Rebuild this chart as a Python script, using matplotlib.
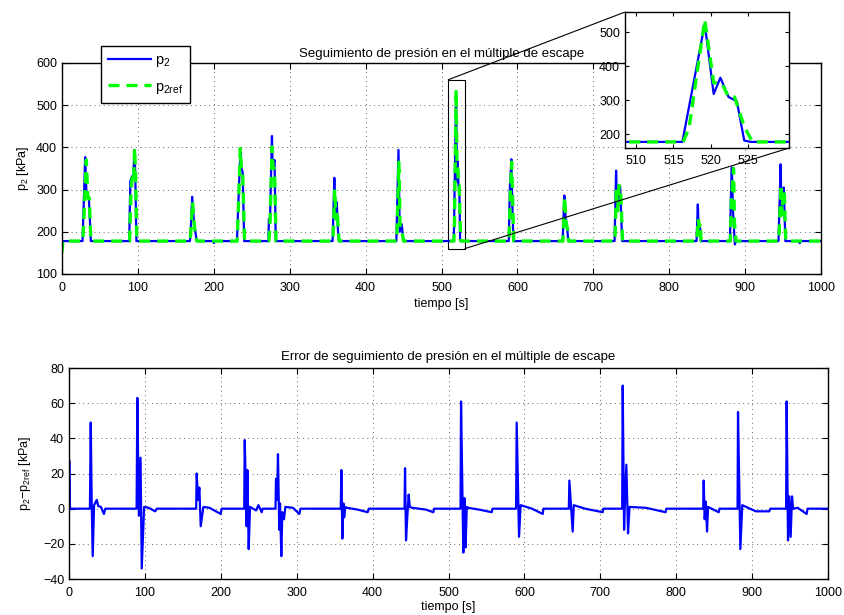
import numpy as np
import matplotlib
matplotlib.use('Agg')
import matplotlib.pyplot as plt
from mpl_toolkits.axes_grid1.inset_locator import mark_inset

plt.rcParams.update({
    'font.family': ['Liberation Sans', 'DejaVu Sans'],
    'font.size': 9,
    'axes.linewidth': 1.0,
    'xtick.direction': 'in',
    'ytick.direction': 'in',
    'xtick.top': True,
    'ytick.right': True,
    'mathtext.default': 'regular',
})

# ── datos (puntos de quiebre) ────────────────────────────────────
t_p2 = [0, 27, 28.5, 30.5, 32, 33, 35.5, 38, 88.5, 90, 92, 94, 95.4, 96.5, 98, 168.5, 169.5,
        171.5, 174, 177.5, 199, 200, 201, 230.5, 233, 235, 236.5, 238, 240, 272, 272.5, 274,
        276.6, 277.5, 280, 281.6, 356.5, 358.8, 360, 362, 363.5, 364.8, 440.5, 443.3, 445,
        447.6, 449.8, 516.2, 519.2, 520.4, 521.3, 522.4, 523.5, 524.5, 525.4, 588.6, 590,
        592, 593.5, 594.8, 659.6, 661.8, 663.5, 665.6, 667, 728, 730, 731.5, 733, 735.3,
        736.5, 738, 836, 837.7, 839, 840.5, 841.7, 880, 881.5, 882.5, 884, 886.5, 888, 944,
        946.8, 948, 949.5, 951, 953, 971, 972, 973, 1000]
p2 = [178, 178, 260, 377, 300, 287, 275, 178, 178, 320, 330, 335, 394, 340, 178, 178, 200,
      283, 220, 178, 178, 173, 178, 178, 300, 390, 350, 340, 178, 178, 230, 225,
      427, 350, 370, 178, 178, 328, 240, 270, 205, 178, 178, 394, 200,
      218, 178, 178, 525, 319, 367, 310, 298, 182, 178, 178, 300,
      372, 250, 178, 178, 286, 230, 210, 178, 178, 345, 260, 280, 309,
      250, 178, 178, 265, 200, 215, 178, 178, 300, 352, 250, 170, 178, 178,
      360, 250, 300, 305, 178, 178, 173, 178, 178]

t_p2ref = [0, 1, 27.5, 29, 32, 34, 36, 38, 89, 91, 93, 94.5, 95.6, 97, 98.5, 168.8, 170,
           172, 174.5, 177.8, 230.8, 233, 234.8, 236.5, 238, 240.5, 272.5, 274, 276.8, 278,
           280, 282, 357, 359.3, 361, 362.5, 365, 441, 443.8, 445.5, 447.5, 450, 516.3,
           517.1, 519.2, 520.4, 521.5, 522.4, 523.2, 524.5, 525.6, 589, 590.5, 592.4, 594,
           595.2, 660, 662.2, 664, 666, 667.5, 728.5, 730.5, 732, 734, 736, 738.5, 836.5,
           838.2, 839.5, 841, 842, 880.5, 882, 884.8, 886, 888, 944.5, 947.3, 948.5, 950,
           951.6, 953.5, 1000]
p2ref = [150, 178, 178, 240, 370, 280, 280, 178, 178, 300, 340, 330, 399, 330, 178, 178, 210,
         270, 210, 178, 178, 290, 397, 345, 340, 178, 178, 215, 401, 350,
         350, 178, 178, 300, 230, 250, 178, 178, 365, 210, 205, 178, 178,
         219, 537, 352, 350, 310, 310, 223, 178, 178, 280, 365, 260,
         178, 178, 282, 225, 205, 178, 178, 307, 250, 310, 300, 178, 178,
         230, 212, 220, 178, 178, 280, 350, 220, 178, 178, 311, 240, 280,
         299, 178, 178]

t_err = [0, 0.8, 1.2, 27.5, 28.6, 29.8, 31.2, 33, 36.5, 38.5, 42, 46, 47.8, 89, 90, 92, 94.2,
         95.8, 98.9, 105, 113.5, 115.7, 167.5, 168.2, 170, 171.7, 173.5, 177, 185, 199.8, 201,
         230.8, 231.5, 234, 235, 236.7, 238.5, 246.4, 249.5, 253.9, 255, 272, 272.7, 274,
         275.3, 277, 278, 279.7, 281, 283.2, 285, 295, 303.4, 305, 358, 358.8, 360.1, 361.5,
         362.5, 364, 366, 380, 393.5, 395, 442, 442.7, 444, 445.5, 447.5, 449, 452, 470, 480,
         481, 515.8, 516.5, 519.5, 521, 522.5, 524, 526, 540, 556.9, 558, 589, 589.8, 592.9,
         595, 610, 624.1, 625, 658.5, 659.2, 663.6, 665, 680, 703.1, 704, 728.8, 729.5, 731.3,
         732.5, 734.3, 736.5, 738.5, 760, 786, 787, 835.5, 836.2, 837.5, 839, 840.6, 842, 856,
         857, 880.8, 881.4, 884.5, 887, 905, 922.6, 924, 944.8, 945.5, 947.3, 949, 950.8,
         952.6, 954, 960, 971.9, 973, 1000]
err = [27, 27, 0, 0, 49, 5, -27, 2, 5, 1.5, 1, -3, 0, 0, 63, -4, 29,
       -34, 1, 0.5, -1.5, 0, 0, 20, 5, 12, -10, 1, 0.5, -3, 0,
       0, 39, -10, 22, -23, 1, -1, 2, -2, 0, 0, 17, 5,
       31, -12, 3, -27, -2, -6, 1, 0.5, -3, 0, 0, 22, -17, 3,
       -5, 1, 0.5, -0.5, -2, 0, 0, 23, -18, -6, 8, 1, 0.5, -0.5, -2,
       0, 0, 61, -25, 6, -22, 1, 0.5, -0.5, -2, 0, 0, 49, -16,
       2, 0, -3, 0, 0, 16, -13, 2, 0, -2, 0, 0, 70, -12,
       5, 25, -14, 1, 0.5, -2, 0, 0, 16, -6, 4, -13, 1, -2,
       0, 0, 55, -23, 2, -1.5, -1.5, 0, 0, 61, -18, 7, -16,
       7, 0, 0.5, -3, 0, 0]

titulo_p = 'Seguimiento de presión en el múltiple de escape'
titulo_e = 'Error de seguimiento de presión en el múltiple de escape'

AZUL = '#0000ff'
VERDE = '#00ff00'
DASH = (0, (3.3, 2.1))


def _matlab_axes(ax):
    ax.grid(True, linestyle=(0, (1, 4.5)), color='#333333', linewidth=0.6)
    ax.tick_params(length=4, width=0.8, labelsize=9)
    ax.tick_params(axis='x', pad=6)


fig = plt.figure(figsize=(8.45, 6.15), dpi=100, facecolor='white')

# ── presion ─────────────────────────────────────────────────────
ax1 = fig.add_axes([0.0734, 0.5545, 0.8982, 0.3431])
l1, = ax1.plot(t_p2, p2, color=AZUL, lw=1.6, label='p$_2$')
l2, = ax1.plot(t_p2ref, p2ref, color=VERDE, lw=2.4, ls=DASH, label='p$_{2ref}$')
ax1.set_xlim(0, 1000)
ax1.set_ylim(100, 600)
ax1.set_xticks(range(0, 1001, 100))
ax1.set_yticks(range(100, 601, 100))
ax1.set_xlabel('tiempo [s]', labelpad=3)
ax1.set_ylabel('p$_2$ [kPa]', labelpad=4)
ax1.set_title(titulo_p, fontsize=9.5, pad=4)
_matlab_axes(ax1)

# zoom 510-530 s
axins = fig.add_axes([0.7396, 0.7593, 0.1941, 0.2211])
axins.plot(t_p2, p2, color=AZUL, lw=1.6)
axins.plot(t_p2ref, p2ref, color=VERDE, lw=2.4, ls=DASH)
axins.set_xlim(508.5, 530.5)
axins.set_ylim(160, 560)
axins.set_xticks([510, 515, 520, 525])
axins.set_yticks([200, 300, 400, 500])
axins.tick_params(length=3, width=0.8, labelsize=9)
axins.tick_params(axis='x', pad=5)
mark_inset(ax1, axins, loc1=2, loc2=4, fc='none', ec='black', lw=0.8)

leg = fig.legend(handles=[l1, l2], loc='upper left', bbox_to_anchor=(0.1195, 0.9252),
                 borderaxespad=0, fancybox=False, edgecolor='black', framealpha=1,
                 fontsize=10.5, handlelength=2.9, borderpad=0.5, labelspacing=0.7,
                 handletextpad=0.3)
leg.get_frame().set_linewidth(1.0)

# ── error ───────────────────────────────────────────────────────
ax2 = fig.add_axes([0.0817, 0.0585, 0.8982, 0.3431])
ax2.plot(t_err, err, color=AZUL, lw=1.6)
ax2.set_xlim(0, 1000)
ax2.set_ylim(-40, 80)
ax2.set_xticks(range(0, 1001, 100))
ax2.set_yticks(range(-40, 81, 20))
ax2.set_xlabel('tiempo [s]', labelpad=1)
ax2.set_ylabel('p$_2$−p$_{2ref}$ [kPa]', labelpad=7)
ax2.set_title(titulo_e, fontsize=9.5, pad=6)
_matlab_axes(ax2)

fig.savefig('out.png', dpi=100, facecolor='white')
